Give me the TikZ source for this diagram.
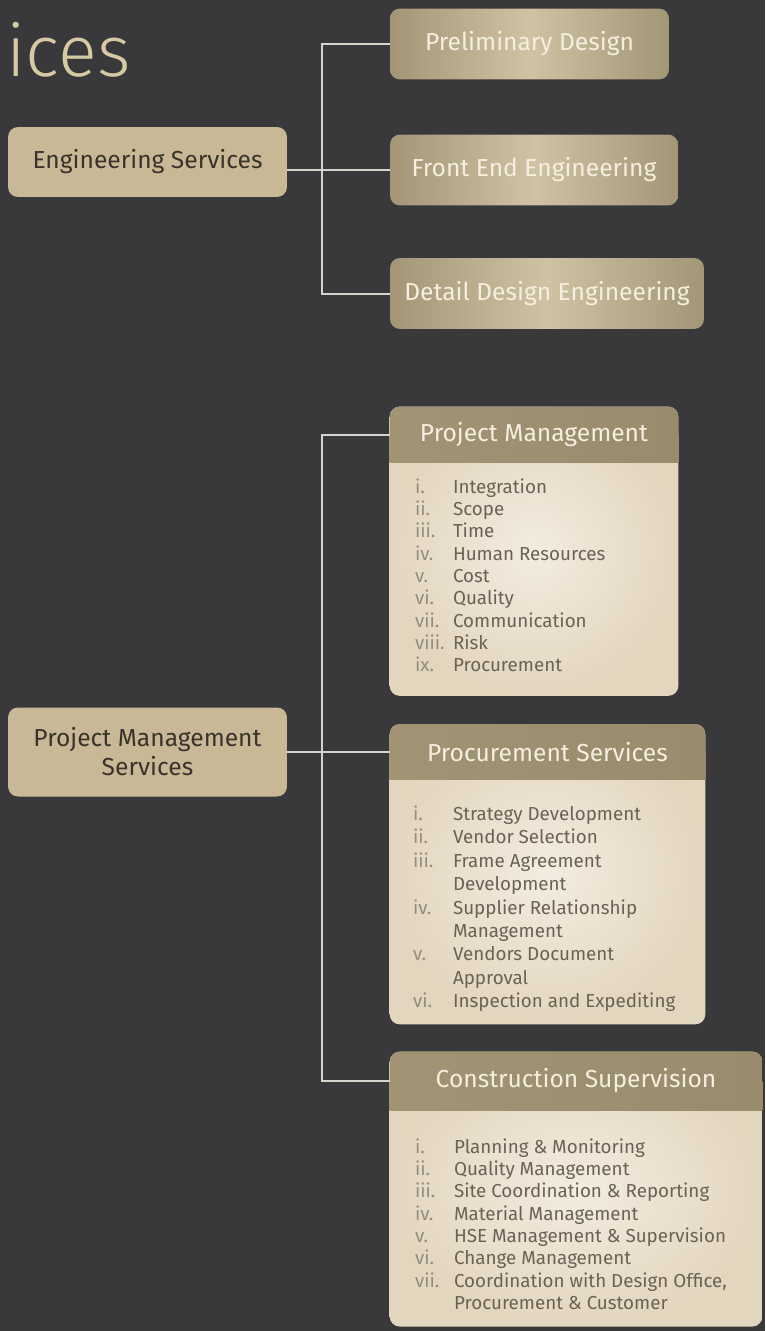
\documentclass[tikz,border=0pt]{standalone}
\usepackage{fontspec}
\usepackage{array}
\setmainfont{Fira Sans}
\newfontfamily\titlefont{Fira Sans Light}
\usetikzlibrary{positioning,backgrounds}
\definecolor{bgdark}{HTML}{39383B}
\definecolor{linegray}{HTML}{D6D3CD}
\definecolor{tanbox}{HTML}{C8B895}
\definecolor{boxtext}{HTML}{3A332B}
\definecolor{metaledge}{HTML}{A39677}
\definecolor{metalmid}{HTML}{CFC3A4}
\definecolor{creamtext}{HTML}{F5EFDF}
\definecolor{headleft}{HTML}{A19474}
\definecolor{headright}{HTML}{998C6D}
\definecolor{cardlight}{HTML}{F3ECE0}
\definecolor{carddark}{HTML}{E3D6BF}
\definecolor{listgray}{HTML}{6B6256}
\definecolor{numgray}{HTML}{958C80}
\definecolor{titletan}{HTML}{D7C9A1}
\tikzset{
    link/.style={draw=linegray, line width=0.04cm},
    bigtitle/.style={anchor=base west, inner sep=0pt, text=titletan, font=\titlefont\fontsize{41}{48}\selectfont},
    topic/.style={rectangle, rounded corners=0.2cm, fill=tanbox, text=boxtext, align=center, minimum width=5.58cm, font=\fontsize{14}{16.5}\selectfont},
    subbox/.style={rectangle, rounded corners=0.2cm, left color=metaledge, right color=metaledge, middle color=metalmid, text=creamtext, minimum height=1.42cm, font=\fontsize{14}{16}\selectfont},
    cardtitle/.style={rectangle, inner sep=0pt, text=creamtext, minimum height=1.1cm, font=\fontsize{14}{16}\selectfont},
    itemlist/.style={anchor=north west, inner sep=0pt, text=listgray, font=\fontsize{10.7}{12.7}\selectfont},
    cardbody/.style={rounded corners=0.2cm, inner color=cardlight, outer color=carddark},
    cardhead/.style={rounded corners=0.2cm, left color=headleft, right color=headright}
}
\begin{document}
\begin{tikzpicture}[x=0.02cm, y=-0.02cm]
\useasboundingbox (0,0) rectangle (765,1331);
\node[bigtitle] (ttl) at (6,77) {ices};

% engineering services
\node[topic, minimum height=1.4cm] (eng) at (147.5,162) {Engineering Services};
\node[subbox, minimum width=5.58cm] (pd) at (529.5,44) {Preliminary Design};
\node[subbox, minimum width=5.76cm] (fe) at (534,170) {Front End Engineering};
\node[subbox, minimum width=6.28cm] (dd) at (547,293.5) {Detail Design Engineering};
\coordinate (j1) at (322,0);
\draw[link] (eng.east |- fe.west) -- (fe.west);
\draw[link] (pd.west) -- (pd.west -| j1) |- (dd.west);

% project management services
\node[topic, minimum height=1.78cm] (pms) at (147.5,752) {Project Management\\Services};
\node[cardtitle, minimum width=5.76cm] (pm) at (534,434.5) {Project Management};
\node[cardtitle, minimum width=6.3cm] (ps) at (547.5,752) {Procurement Services};
\node[cardtitle, minimum width=7.44cm, minimum height=1.16cm] (cs) at (576,1081) {Construction Supervision};

\node[itemlist, below right=0.3cm and 0.5cm of pm.south west] (pml) {%
\begin{tabular}{@{}>{\color{numgray}}w{l}{0.76cm}@{}l@{}}
i. & Integration\\
ii. & Scope\\
iii. & Time\\
iv. & Human Resources\\
v. & Cost\\
vi. & Quality\\
vii. & Communication\\
viii. & Risk\\
ix. & Procurement
\end{tabular}};
\node[itemlist, font=\fontsize{10.7}{13.3}\selectfont, below right=0.48cm and 0.46cm of ps.south west] (psl) {%
\begin{tabular}{@{}>{\color{numgray}}w{l}{0.8cm}@{}l@{}}
i. & Strategy Development\\
ii. & Vendor Selection\\
iii. & Frame Agreement\\
 & Development\\
iv. & Supplier Relationship\\
 & Management\\
v. & Vendors Document\\
 & Approval\\
vi. & Inspection and Expediting
\end{tabular}};
\node[itemlist, below right=0.54cm and 0.5cm of cs.south west] (csl) {%
\begin{tabular}{@{}>{\color{numgray}}w{l}{0.78cm}@{}l@{}}
i. & Planning \& Monitoring\\
ii. & Quality Management\\
iii. & Site Coordination \& Reporting\\
iv. & Material Management\\
v. & HSE Management \& Supervision\\
vi. & Change Management\\
vii. & Coordination with Design Office,\\
 & Procurement \& Customer
\end{tabular}};

\coordinate (j2) at (322,0);
\draw[link] (pms.east) -- (ps.west);
\draw[link] (pm.west) -- (pm.west -| j2) |- (cs.west);

\coordinate (pmb) at ([yshift=-0.34cm]pml.south);
\coordinate (psb) at ([yshift=-0.19cm]psl.south);
\coordinate (csb) at ([yshift=-0.2cm]csl.south);

\begin{scope}[on background layer]
\fill[bgdark] (0,0) rectangle (765,1331);
\shade[cardbody] (pm.north west) rectangle (pmb -| pm.east);
\shade[cardhead] (pm.north west) rectangle (pm.south east);
\shade[cardhead, sharp corners] (pm.west) rectangle (pm.south east);
\shade[cardbody] (ps.north west) rectangle (psb -| ps.east);
\shade[cardhead] (ps.north west) rectangle (ps.south east);
\shade[cardhead, sharp corners] (ps.west) rectangle (ps.south east);
\shade[cardbody] (cs.north west) rectangle (csb -| cs.east);
\shade[cardhead] (cs.north west) rectangle (cs.south east);
\shade[cardhead, sharp corners] (cs.west) rectangle (cs.south east);
\end{scope}
\end{tikzpicture}
\end{document}
